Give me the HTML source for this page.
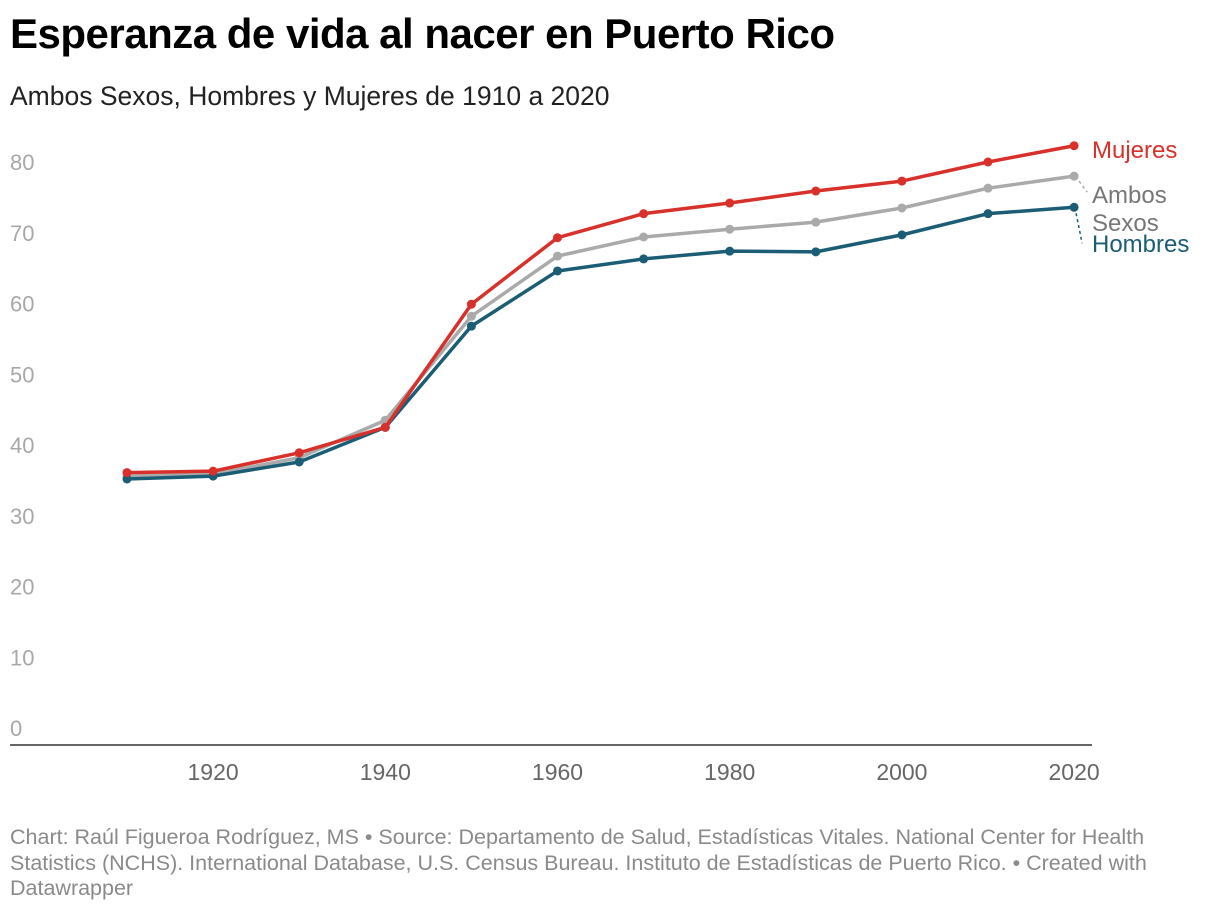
<!DOCTYPE html>
<html><head><meta charset="utf-8"><style>
body{margin:0;width:1220px;height:914px;background:#fff;font-family:"Liberation Sans",sans-serif;position:relative;overflow:hidden}
#title{position:absolute;left:10px;top:10px;font-size:42px;font-weight:bold;color:#000;margin:0;letter-spacing:-0.5px}
#sub{position:absolute;left:10px;top:81px;font-size:26.5px;color:#222}
#foot{position:absolute;left:10px;top:825px;width:1165px;font-size:21.5px;line-height:25.5px;color:#8a8a8a}
svg{position:absolute;left:0;top:0}
</style></head><body>
<h1 id="title">Esperanza de vida al nacer en Puerto Rico</h1>
<div id="sub">Ambos Sexos, Hombres y Mujeres de 1910 a 2020</div>
<svg id="chart" width="1220" height="914"></svg>
<div id="foot">Chart: Raúl Figueroa Rodríguez, MS • Source: Departamento de Salud, Estadísticas Vitales. National Center for Health Statistics (NCHS). International Database, U.S. Census Bureau. Instituto de Estadísticas de Puerto Rico. • Created with Datawrapper</div>
<script>
const years=[1910,1920,1930,1940,1950,1960,1970,1980,1990,2000,2010,2020];
const mujeres=[36.1,36.3,38.9,42.5,59.9,69.3,72.7,74.2,75.9,77.3,80.0,82.3];
const ambos=[35.6,35.9,38.2,43.5,58.2,66.7,69.4,70.5,71.5,73.5,76.3,78.0];
const hombres=[35.2,35.6,37.6,42.5,56.8,64.6,66.3,67.4,67.3,69.7,72.7,73.6];
const yTicks=[0,10,20,30,40,50,60,70,80];
const xTicks=[1920,1940,1960,1980,2000,2020];
const NS='http://www.w3.org/2000/svg';
const svg=document.getElementById('chart');
const x=v=>127+(v-1910)*8.61;
const y=v=>728-v*7.075;
function mk(t,a){const e=document.createElementNS(NS,t);for(const k in a)e.setAttribute(k,a[k]);svg.appendChild(e);return e;}
yTicks.forEach(t=>{const e=mk('text',{x:10,y:y(t)+8,'font-size':22,fill:'#a8a8a8'});e.textContent=t;

});
xTicks.forEach(t=>{const e=mk('text',{x:x(t),y:780,'font-size':23,fill:'#666','text-anchor':'middle'});e.textContent=t;

});
const ax=mk('line',{x1:10,x2:1092,y1:745,y2:745,stroke:'#333','stroke-width':1.5});


const series=[['ambos',ambos,'#aaaaaa'],['hombres',hombres,'#1b5d75'],['mujeres',mujeres,'#d8302a']];
series.forEach(([n,d,c])=>{
 const p=mk('polyline',{points:d.map((v,i)=>x(years[i])+','+y(v)).join(' '),fill:'none',stroke:c,'stroke-width':3.5,'stroke-linejoin':'round'});
 
 
 d.forEach((v,i)=>{const ci=mk('circle',{cx:x(years[i]),cy:y(v),r:4.5,fill:c});
 
 });
});
const lx=x(2020);
const l1=mk('line',{x1:lx+5,y1:y(ambos[11])+5,x2:lx+13,y2:y(ambos[11])+16,stroke:'#aaa','stroke-width':1.5,'stroke-dasharray':'3,3'});


const l2=mk('line',{x1:lx+2,y1:y(hombres[11])+6,x2:lx+8,y2:y(hombres[11])+36,stroke:'#1b5d75','stroke-width':1.5,'stroke-dasharray':'3,3'});


[['Mujeres',158,'#d8302a','label-mujeres'],['Ambos',203,'#777','label-ambos'],['Sexos',231,'#777','label-ambos-2'],['Hombres',252,'#1b5d75','label-hombres']].forEach(([t,yy,c,n])=>{
 const e=mk('text',{x:1092,y:yy,'font-size':24,fill:c});e.textContent=t;
 
 
});
</script>
</body></html>
